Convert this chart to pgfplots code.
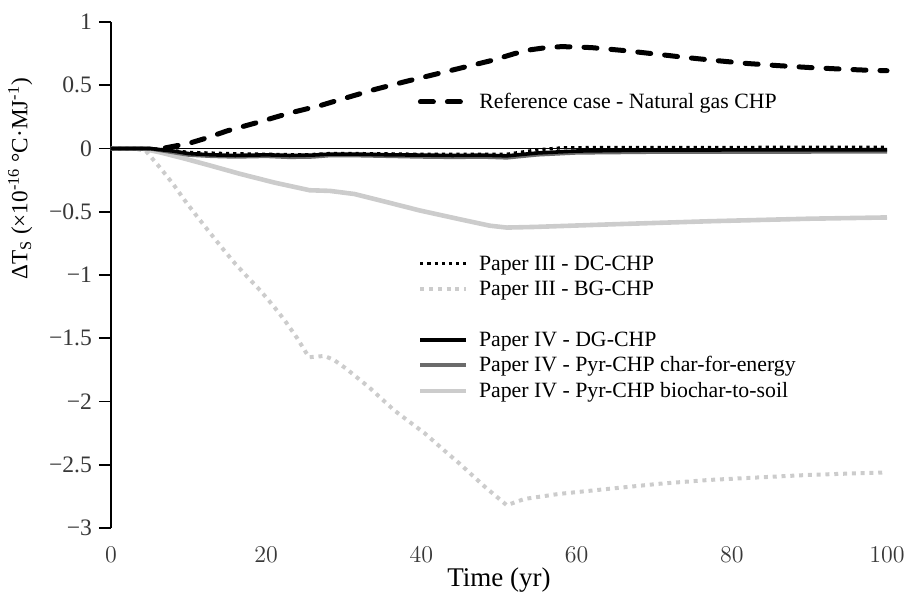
\documentclass[border=0pt]{standalone}
\usepackage{pgfplots}
\pgfplotsset{compat=1.18}
\usepackage{fontspec}
\setmainfont{Liberation Serif}

\definecolor{lightgr}{gray}{0.80}
\definecolor{midgr}{gray}{0.42}
\definecolor{ticktext}{gray}{0.22}

\pgfplotsset{
  tempaxis/.style={
    scale only axis,
    width=388pt, height=253pt,
    xmin=0, xmax=100, ymin=-3, ymax=1,
    clip=false,
  },
  leg/.style={
    legend cell align=left,
    legend style={draw=none, fill=none, inner sep=0pt, row sep=0pt,
      font=\fontsize{10.9}{12}\selectfont,
      nodes={inner sep=1.25pt, text height=8.2pt, text depth=2pt},
      /tikz/every odd column/.style={column sep=4pt}},
    legend image code/.code={\draw[##1] (0pt,0pt) -- (23pt,0pt);},
  },
  refcase/.style={black, line width=2.5pt, line cap=round, dash pattern=on 6.5pt off 7pt},
  dcchp/.style={black, line width=1.6pt, dash pattern=on 1.6pt off 2pt},
  bgchp/.style={lightgr, line width=2pt, dash pattern=on 2pt off 2.4pt},
  dgchp/.style={black, line width=1.8pt},
  pyren/.style={midgr, line width=2pt},
  pyrsoil/.style={lightgr, line width=2.3pt},
}

\begin{document}
\begin{tikzpicture}
\begin{axis}[
  tempaxis, leg,
  name=main,
  axis x line*=bottom, axis y line*=left,
  x axis line style={draw=none},
  y axis line style={black, line width=0.8pt},
  xtick={0,20,40,60,80,100},
  xtick style={draw=none},
  ytick={-3,-2.5,-2,-1.5,-1,-0.5,0,0.5,1},
  yticklabels={−3,−2.5,−2,−1.5,−1,−0.5,0,0.5,1},
  tick align=outside,
  ytick style={black, line width=0.8pt},
  major tick length=6pt,
  tick label style={font=\fontsize{11.8}{13}\selectfont, text=ticktext},
  xlabel={Time (yr)},
  xlabel style={font=\fontsize{13.5}{15}\selectfont, yshift=4.5pt},
  ylabel={ΔT\textsubscript{S} (×10\textsuperscript{-16} °C·MJ\textsuperscript{-1})},
  ylabel style={font=\fontsize{11.6}{13}\selectfont, at={(axis description cs:-0.117,0.69)}, anchor=center},
  legend style={at={(axis description cs:0.395,0.548)}, anchor=north west},
]
% zero reference line
\addplot[forget plot, black, line width=0.7pt] coordinates {(0,0) (100,0)};

% Paper III - BG-CHP
\addplot[forget plot, bgchp] coordinates {
(0,0) (3,0) (4.5,-0.02) (6.3,-0.15) (8,-0.28) (9.5,-0.41) (11,-0.53)
(12.8,-0.67) (14.5,-0.8) (16,-0.91) (17.5,-1.01) (19.2,-1.12) (21,-1.25)
(22.4,-1.36) (24,-1.5) (25.5,-1.65) (27.5,-1.64) (28.7,-1.67) (30.3,-1.74)
(33.3,-1.89) (36.5,-2.07) (40.4,-2.25) (43,-2.39) (44.9,-2.49) (48.1,-2.67)
(51,-2.82) (53.3,-2.77) (57.8,-2.73) (64.2,-2.69) (70.7,-2.65) (77.1,-2.62)
(83.5,-2.6) (90,-2.58) (95,-2.57) (100,-2.56)};

% Paper IV - Pyr-CHP biochar-to-soil
\addplot[forget plot, pyrsoil] coordinates {
(0,0) (4,0) (6.3,-0.03) (9.5,-0.08) (12.8,-0.135) (16.6,-0.2) (21.1,-0.27)
(25.6,-0.33) (28.2,-0.335) (31.4,-0.36) (35.3,-0.42) (39.8,-0.49) (45,-0.56)
(48.8,-0.61) (51,-0.625) (54.6,-0.62) (64.2,-0.6) (77.1,-0.575) (90,-0.555)
(100,-0.545)};

% Paper IV - Pyr-CHP char-for-energy
\addplot[forget plot, pyren] coordinates {
(0,0) (5,0) (8,-0.03) (10,-0.05) (13,-0.06) (16,-0.065) (20,-0.06) (23,-0.068)
(26,-0.065) (28,-0.055) (32,-0.055) (36,-0.06) (40,-0.065) (44,-0.068)
(48,-0.066) (51,-0.072) (55,-0.048) (60,-0.033) (70,-0.027) (100,-0.025)};

% Paper IV - DG-CHP
\addplot[forget plot, dgchp] coordinates {
(0,0) (5,0) (8,-0.02) (10,-0.04) (13,-0.05) (16,-0.055) (20,-0.05) (23,-0.055)
(26,-0.052) (28,-0.045) (32,-0.045) (36,-0.05) (40,-0.052) (44,-0.055)
(48,-0.053) (51,-0.058) (55,-0.035) (60,-0.02) (70,-0.012) (100,-0.01)};

% Paper III - DC-CHP
\addplot[forget plot, dcchp] coordinates {
(0,0) (5,0) (7,-0.01) (10,-0.03) (15,-0.04) (20,-0.045) (25,-0.05) (28,-0.04)
(32,-0.04) (36,-0.042) (40,-0.046) (45,-0.046) (51,-0.045) (55,-0.01)
(58,0.005) (62,0.008) (100,0.01)};

\addlegendimage{dcchp}\addlegendentry{Paper III - DC-CHP}
\addlegendimage{bgchp}\addlegendentry{Paper III - BG-CHP}
\addlegendimage{empty legend}\addlegendentry{}
\addlegendimage{dgchp}\addlegendentry{Paper IV - DG-CHP}
\addlegendimage{pyren}\addlegendentry{Paper IV - Pyr-CHP char-for-energy}
\addlegendimage{pyrsoil}\addlegendentry{Paper IV - Pyr-CHP biochar-to-soil}
\end{axis}

\begin{axis}[
  tempaxis, leg,
  hide axis,
  legend style={at={(axis description cs:0.395,0.842)}, anchor=west},
]
% Reference case - Natural gas CHP
\addplot[refcase] coordinates {
(7,0.005) (10,0.04) (12,0.077) (15,0.14) (19,0.208) (23,0.28) (27,0.34)
(30,0.395) (34,0.467) (38,0.53) (42,0.59) (46,0.65) (49,0.695) (52,0.75)
(54,0.78) (56,0.797) (58,0.805) (60,0.803) (62,0.797) (66,0.775) (70,0.748)
(74,0.72) (78,0.695) (82,0.672) (86,0.655) (90,0.64) (94,0.628) (97,0.62)
(100,0.615)};
\addlegendentry{Reference case - Natural gas CHP}
\end{axis}

\pgfresetboundingbox
\path ([shift={(-55.5pt,-33.5pt)}]main.south west) rectangle ([shift={(8.5pt,11pt)}]main.north east);
\end{tikzpicture}
\end{document}
